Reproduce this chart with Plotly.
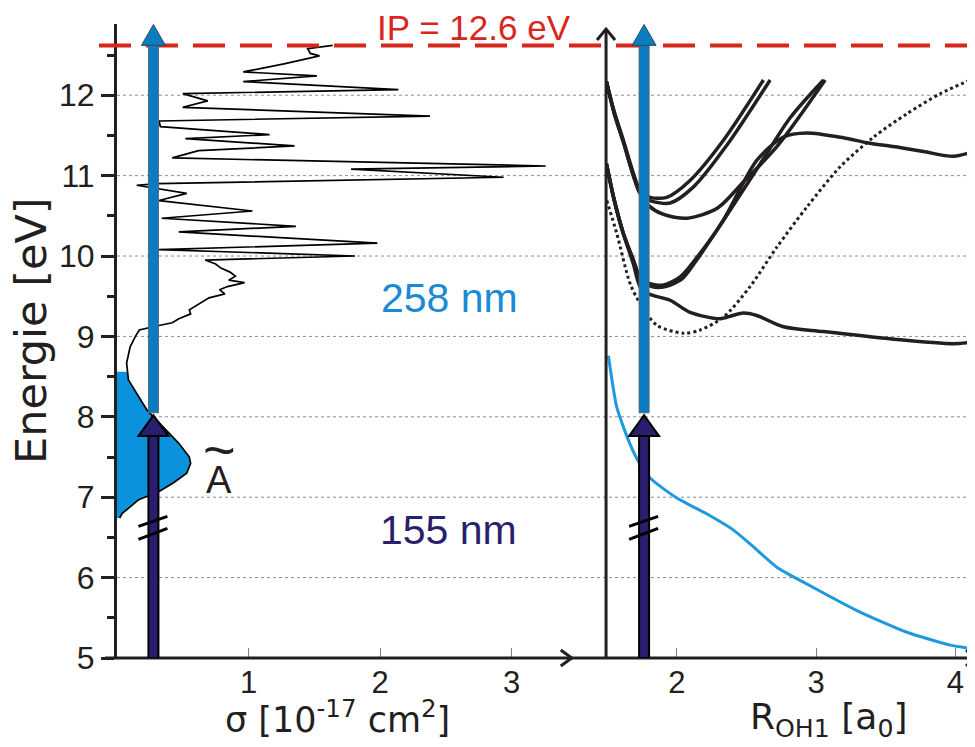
import numpy as np
import plotly.graph_objects as go

# ---------------- data ----------------
# Left panel: absorption spectrum sigma (1e-17 cm^2) vs energy (eV)
spec_E = [6.74, 6.80, 6.88, 6.97, 7.07, 7.18, 7.30, 7.42, 7.50, 7.67, 7.84, 8.08, 8.25, 8.46,
          8.67, 8.87, 9.00, 9.08, 9.13, 9.17, 9.22, 9.28, 9.33, 9.38, 9.43, 9.48, 9.53, 9.58,
          9.62, 9.67, 9.70, 9.75, 9.80, 9.85, 9.90, 9.95, 10.00, 10.08, 10.16, 10.30, 10.37,
          10.47, 10.56, 10.69, 10.78, 10.88, 10.90, 10.98, 11.08, 11.12, 11.22, 11.31, 11.37,
          11.46, 11.51, 11.61, 11.68, 11.74, 11.85, 11.93, 12.02, 12.07, 12.17, 12.24, 12.29,
          12.39, 12.49, 12.52, 12.58, 12.62]
spec_sigma = [0.02, 0.04, 0.10, 0.165, 0.32, 0.43, 0.53, 0.56, 0.55, 0.47, 0.37, 0.23, 0.165, 0.087,
              0.073, 0.10, 0.14, 0.17, 0.30, 0.42, 0.47, 0.56, 0.55, 0.60, 0.66, 0.70, 0.82, 0.78,
              0.84, 0.97, 0.85, 0.90, 0.86, 0.79, 0.75, 0.67, 1.81, 0.32, 1.98, 0.47, 1.36,
              0.34, 1.03, 0.32, 0.53, 0.15, 0.31, 2.94, 1.78, 3.26, 0.42, 0.62, 1.35,
              0.52, 1.16, 0.33, 0.32, 2.38, 0.50, 0.69, 0.50, 2.14, 0.96, 1.52, 0.96,
              1.27, 1.54, 1.47, 1.45, 1.64]
band_top_E = 8.56  # upper edge of the filled A-tilde band

# Right panel: potential curves, R_OH1 (a0) vs energy (eV)
A1_R = [1.495, 1.55, 1.616, 1.688, 1.736, 1.808, 1.928, 2.095, 2.335, 2.622]
A1_E = [12.17, 11.80, 11.44, 11.03, 10.82, 10.73, 10.73, 10.94, 11.44, 12.19]
A2_R = [1.495, 1.55, 1.616, 1.688, 1.736, 1.808, 1.952, 2.12, 2.36, 2.67]
A2_E = [12.17, 11.78, 11.42, 11.00, 10.78, 10.69, 10.66, 10.86, 11.38, 12.19]
B_R = [1.495, 1.55, 1.616, 1.688, 1.736, 1.796, 1.90, 2.072, 2.287, 2.478, 2.718, 3.065]
B_E = [12.17, 11.78, 11.42, 11.00, 10.78, 10.63, 10.52, 10.47, 10.59, 10.92, 11.36, 12.19]
C1_R = [1.495, 1.55, 1.616, 1.688, 1.736, 1.80, 1.904, 2.024, 2.143, 2.335, 2.574, 2.766,
        2.934, 3.197, 3.365, 3.60, 3.771, 3.987, 4.131]
C1_E = [11.15, 10.70, 10.28, 9.95, 9.74, 9.66, 9.64, 9.74, 9.98, 10.45, 11.19, 11.48,
        11.53, 11.47, 11.41, 11.35, 11.30, 11.24, 11.30]
C2_R = [1.495, 1.55, 1.616, 1.688, 1.736, 1.82, 1.92, 2.04, 2.143, 2.30, 2.45, 2.60, 2.814, 3.053]
C2_E = [11.15, 10.70, 10.28, 9.95, 9.72, 9.62, 9.62, 9.72, 9.95, 10.35, 10.75, 11.15, 11.72, 12.19]
D_R = [1.495, 1.55, 1.616, 1.688, 1.736, 1.796, 1.952, 2.095, 2.311, 2.40, 2.478, 2.574,
       2.766, 3.053, 3.532, 3.987, 4.131]
D_E = [11.13, 10.70, 10.28, 9.90, 9.62, 9.53, 9.45, 9.30, 9.22, 9.26, 9.29, 9.26,
       9.12, 9.06, 8.97, 8.91, 8.93]
dot_R = [1.497, 1.569, 1.664, 1.736, 1.856, 2.048, 2.168, 2.335, 2.526, 2.718, 2.934, 3.173,
         3.413, 3.652, 3.892, 4.107]
dot_E = [10.69, 10.28, 9.66, 9.41, 9.14, 9.04, 9.08, 9.24, 9.62, 10.11, 10.61, 11.11,
         11.48, 11.77, 12.02, 12.19]
blue_R = [1.509, 1.569, 1.664, 1.736, 1.820, 2.000, 2.239, 2.40, 2.526, 2.718, 2.934, 3.293,
          3.652, 3.963, 4.107]
blue_E = [8.76, 8.12, 7.66, 7.41, 7.22, 6.99, 6.77, 6.60, 6.42, 6.13, 5.92, 5.59,
          5.32, 5.16, 5.12]

y_ticks = [5, 6, 7, 8, 9, 10, 11, 12]
y_minor = [5.5, 6.5, 7.5, 8.5, 9.5, 10.5, 11.5, 12.5]
x1_ticks = [1, 2, 3]
x2_ticks = [2, 3, 4]

IP_E = 12.62
arrow_sigma = 0.277   # arrow position, left panel
arrow_R = 1.765       # arrow position, right panel
blue_start_E = 8.05
navy_head_E = 7.76
navy_tip_E = 8.02
head_base_E = 12.62
head_tip_E = 12.88
break_E = 6.45

# ---------------- layout constants ----------------
PAGE_OFF = 8                      # default body margin of the html page
W, H = 975 - PAGE_OFF, 747 - PAGE_OFF
ML, MR, MT, MB = 109, 0, 16, 89
Y_RANGE = [5, 12.886]
X1_RANGE = [0, 3.458]
X2_RANGE = [1.492, 4.141]
X1_DOM = [0, 0.530]
X2_DOM = [0.570, 1.0]

TXT = "#231f20"
FONT = "Liberation Sans, Arial, sans-serif"
WIDE = "DejaVu Sans, Liberation Sans, sans-serif"
BLUE_ARROW = "#0a7cc2"
NAVY = "#2a1e6e"
BAND = "#0a93dc"
CURVE_BLUE = "#1e98de"
RED = "#d9261c"

pw = W - ML - MR
ph = H - MT - MB


def px_x(px):
    """window pixel -> paper x"""
    return (px - PAGE_OFF - ML) / pw


def px_y(py):
    """window pixel -> paper y"""
    return (H - MB - (py - PAGE_OFF)) / ph


fig = go.Figure()

# filled A-tilde band
E_arr = np.array(spec_E)
S_arr = np.array(spec_sigma)
sel = E_arr <= band_top_E
s_top = float(np.interp(band_top_E, E_arr, S_arr))
fx = [0] + list(S_arr[sel]) + [s_top, 0]
fy = [E_arr[sel][0]] + list(E_arr[sel]) + [band_top_E, band_top_E]
fig.add_trace(go.Scatter(x=fx, y=fy, fill="toself", fillcolor=BAND, mode="lines",
                         line=dict(width=0, color=BAND), xaxis="x", yaxis="y",
                         hoverinfo="skip", showlegend=False))
fig.add_trace(go.Scatter(x=spec_sigma, y=spec_E, mode="lines",
                         line=dict(color="black", width=1.7), xaxis="x", yaxis="y",
                         showlegend=False))

for R, E in [(A1_R, A1_E), (A2_R, A2_E), (B_R, B_E), (C1_R, C1_E), (C2_R, C2_E), (D_R, D_E)]:
    fig.add_trace(go.Scatter(x=R, y=E, mode="lines",
                             line=dict(color=TXT, width=3.5, shape="spline", smoothing=0.8),
                             xaxis="x2", yaxis="y", showlegend=False))
fig.add_trace(go.Scatter(x=dot_R, y=dot_E, mode="lines",
                         line=dict(color=TXT, width=3, dash="dot", shape="spline", smoothing=0.8),
                         xaxis="x2", yaxis="y", showlegend=False))
fig.add_trace(go.Scatter(x=blue_R, y=blue_E, mode="lines",
                         line=dict(color=CURVE_BLUE, width=3, shape="spline", smoothing=0.6),
                         xaxis="x2", yaxis="y", showlegend=False))

shapes = []
# horizontal dotted grid across both panels
for e in y_ticks[1:]:
    shapes.append(dict(type="line", xref="paper", yref="y", x0=0, x1=1, y0=e, y1=e,
                       line=dict(color="#8c8c8c", width=1, dash="dot"), layer="below"))
# IP dashed line
shapes.append(dict(type="line", xref="paper", yref="y", x0=px_x(99), x1=1, y0=IP_E, y1=IP_E,
                   line=dict(color=RED, width=4, dash="32px,15px")))
# x-axis baseline (continuous)
shapes.append(dict(type="line", xref="paper", yref="paper", x0=px_x(105), x1=1, y0=0, y1=0,
                   line=dict(color=TXT, width=3)))
# chevron at end of left x axis
shapes.append(dict(type="path", xref="paper", yref="paper", xsizemode="pixel", ysizemode="pixel",
                   xanchor=X1_DOM[1], yanchor=0, path="M-11,8 L0,0 L-11,-8",
                   line=dict(color=TXT, width=3)))
# chevron at end of right x axis
shapes.append(dict(type="path", xref="paper", yref="paper", xsizemode="pixel", ysizemode="pixel",
                   xanchor=1, yanchor=0, path="M-9,8 L0,0 L-9,-8",
                   line=dict(color=TXT, width=3)))
# right y axis with chevron
ry_top = px_y(29)
shapes.append(dict(type="line", xref="paper", yref="paper", x0=X2_DOM[0], x1=X2_DOM[0],
                   y0=0, y1=ry_top, line=dict(color=TXT, width=3)))
shapes.append(dict(type="path", xref="paper", yref="paper", xsizemode="pixel", ysizemode="pixel",
                   xanchor=X2_DOM[0], yanchor=ry_top, path="M-9,-11 L0,0 L9,-11",
                   line=dict(color=TXT, width=3)))

# arrows in both panels
for xr, xa in [("x", arrow_sigma), ("x2", arrow_R)]:
    # blue shaft + head
    shapes.append(dict(type="rect", xref=xr, yref="y", xsizemode="pixel", xanchor=xa,
                       x0=-5, x1=5, y0=blue_start_E, y1=head_base_E,
                       fillcolor=BLUE_ARROW, line=dict(color="#55687a", width=1)))
    shapes.append(dict(type="path", xref=xr, yref="y", xsizemode="pixel", xanchor=xa,
                       path=f"M-12,{head_base_E} L12,{head_base_E} L0,{head_tip_E} Z",
                       fillcolor=BLUE_ARROW, line=dict(color="#34495a", width=1)))
    # navy shaft + head
    shapes.append(dict(type="rect", xref=xr, yref="y", xsizemode="pixel", xanchor=xa,
                       x0=-5, x1=5, y0=Y_RANGE[0], y1=navy_head_E,
                       fillcolor=NAVY, line=dict(color="black", width=2)))
    shapes.append(dict(type="path", xref=xr, yref="y", xsizemode="pixel", xanchor=xa,
                       path=f"M-15,{navy_head_E} L15,{navy_head_E} L0,{navy_tip_E} Z",
                       fillcolor=NAVY, line=dict(color="black", width=2)))
    # axis-break marks
    shapes.append(dict(type="path", xref=xr, yref="y", xsizemode="pixel", ysizemode="pixel",
                       xanchor=xa, yanchor=break_E,
                       path="M-15,15 L14,25 M-15,2 L14,13",
                       line=dict(color="black", width=3)))


def label(text, x, y, size, color=TXT, family=FONT, angle=0):
    return dict(text=text, xref="paper", yref="paper", x=px_x(x), y=px_y(y),
                xanchor="center", yanchor="middle", textangle=angle, showarrow=False,
                font=dict(size=size, color=color, family=family))


annotations = [
    label("IP = 12.6 eV", 474, 28, 35, RED),
    label("258 nm", 449, 298, 41, "#1a8ad4"),
    label("155 nm", 448, 530, 41, NAVY),
    label("~", 219, 449, 56),
    label("A", 219, 480, 38),
    label("Energie [eV]", 31, 331, 43, family=WIDE, angle=-90),
    label("σ [10<sup>-17</sup> cm<sup>2</sup>]", 337, 717, 35, family=WIDE),
    label("R<sub>OH1</sub> [a<sub>0</sub>]", 828, 719, 36, family=WIDE),
]

xcommon = dict(showgrid=False, zeroline=False, showline=False, ticks="inside", ticklen=10,
               tickwidth=1, tickcolor="#808080", anchor="y", ticklabelstandoff=3,
               tickfont=dict(size=31, color=TXT, family=FONT))

fig.update_layout(
    width=W, height=H, margin=dict(l=ML, r=MR, t=MT, b=MB),
    paper_bgcolor="white", plot_bgcolor="white", showlegend=False,
    font=dict(family=FONT, color=TXT),
    xaxis=dict(domain=X1_DOM, range=X1_RANGE, tickvals=x1_ticks, **xcommon),
    xaxis2=dict(domain=X2_DOM, range=X2_RANGE, tickvals=x2_ticks, **xcommon),
    yaxis=dict(range=Y_RANGE, tickvals=y_ticks, showgrid=False, zeroline=False,
               showline=True, linewidth=3, linecolor=TXT, ticks="outside", ticklen=13,
               tickwidth=3, tickcolor=TXT, ticklabelstandoff=0,
               tickfont=dict(size=32, color=TXT, family=FONT),
               minor=dict(tickvals=y_minor, ticks="outside", ticklen=7, tickwidth=3,
                          tickcolor=TXT, showgrid=False)),
    shapes=shapes, annotations=annotations,
)

fig.write_html("out.html")
